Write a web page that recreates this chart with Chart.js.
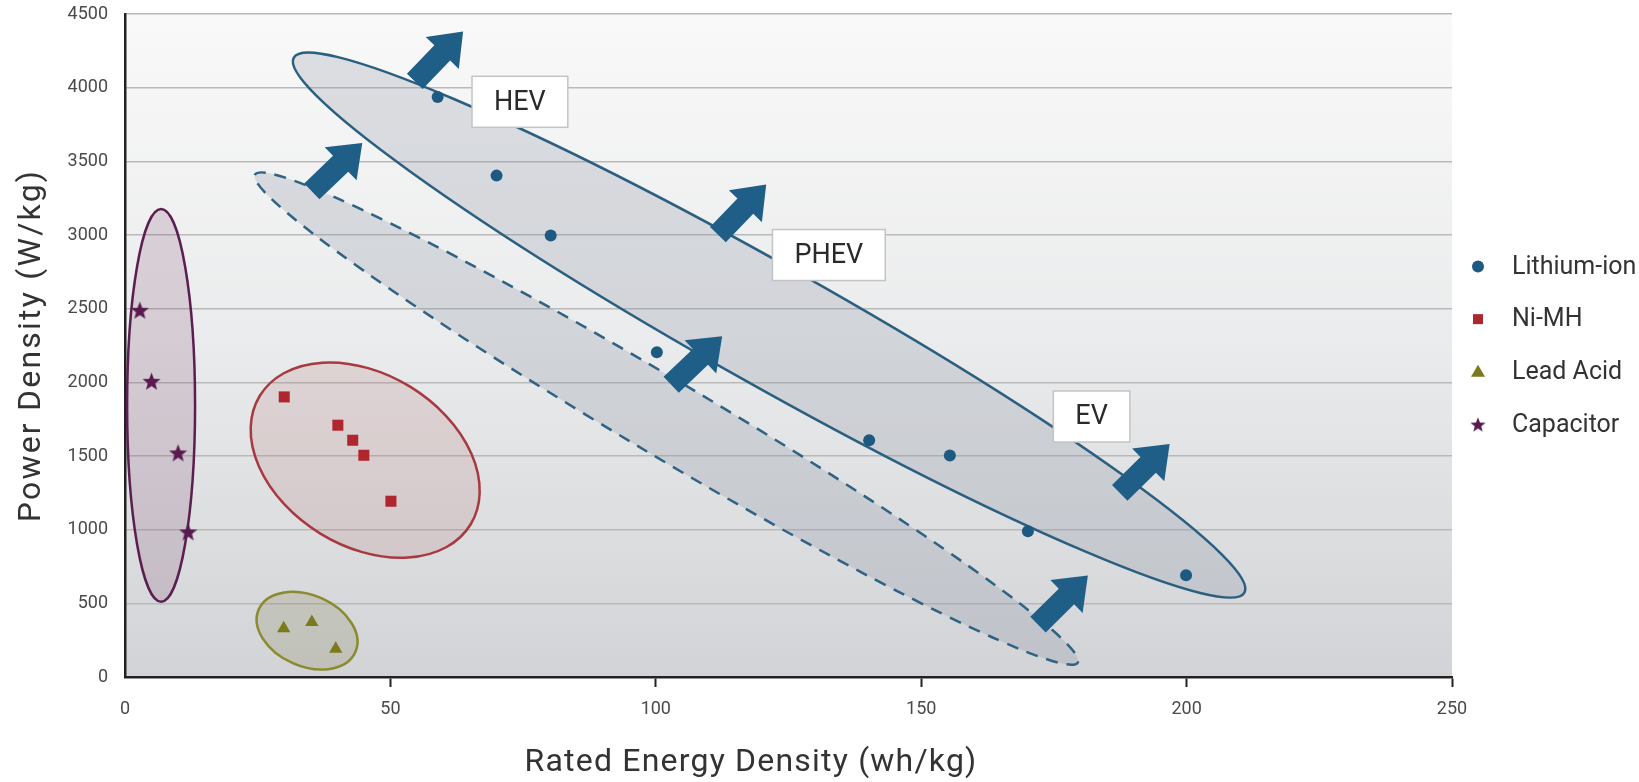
<!DOCTYPE html>
<html><head><meta charset="utf-8">
<script src="https://cdn.jsdelivr.net/npm/chart.js@4.4.1/dist/chart.umd.min.js"></script>
<style>html,body{margin:0;padding:0;background:#fff;}canvas{display:block}</style>
</head><body>
<canvas id="c" width="1639" height="782"></canvas>
<script>
// ---- data ----
const seriesNames = ['Lithium-ion', 'Ni-MH', 'Lead Acid', 'Capacitor'];
const lithiumEnergy = [58.9, 70.0, 80.2, 100.2, 140.2, 155.4, 170.1, 199.9];
const lithiumPower  = [3937, 3403, 2996, 2204, 1607, 1503, 989, 691];
const nimhEnergy = [30.0, 40.1, 42.9, 45.0, 50.1];
const nimhPower  = [1901, 1709, 1607, 1505, 1193];
const leadEnergy = [29.9, 35.2, 39.7];
const leadPower  = [330, 372, 191];
const capEnergy = [2.8, 5.0, 10.0, 11.9];
const capPower  = [2489, 2007, 1521, 985];
const xTickValues = [0, 50, 100, 150, 200, 250];
const yTickValues = [0, 500, 1000, 1500, 2000, 2500, 3000, 3500, 4000, 4500];
const xTitle = 'Rated Energy Density (wh/kg)';
const yTitle = 'Power Density (W/kg)';
// grouping zones: major-axis end points (data units) and minor/major ratio
const zoneFrom  = [[6.8, 3177], [25.4, 1909], [25.2, 459], [31.8, 4204], [24.5, 3410]];
const zoneTo    = [[6.8, 511], [65.1, 1035], [43.4, 170], [210.9, 573], [179.5, 98]];
const zoneRatio = [0.173, 0.697, 0.672, 0.11, 0.08];
// development arrows (data units): tail -> tip
const arrowFrom = [[54.6, 4043], [35.2, 3296], [111.7, 3003], [102.9, 1984], [187.4, 1250], [172.0, 356]];
const arrowTo   = [[63.7, 4382], [44.7, 3625], [120.8, 3342], [112.5, 2313], [196.8, 1582], [181.4, 689]];
// vehicle tags
const tagTexts = ['HEV', 'PHEV', 'EV'];
const tagAt = [[74.4, 3904], [132.6, 2864], [182.1, 1768]];

// ---- styles ----
const FONT = 'Roboto, "DejaVu Sans", sans-serif';
const C_LI = '#1d5a82', C_NI = '#b0262f', C_LEAD = '#7b7a1d', C_CAP = '#5a1a4f';
const zoneStyles = [
  {fill: 'rgba(115,60,100,0.18)', stroke: '#5a1f50', dash: []},
  {fill: 'rgba(175,110,110,0.18)', stroke: '#a63a40', dash: []},
  {fill: 'rgba(125,120,70,0.20)', stroke: '#8a8a2e', dash: []},
  {fill: 'rgba(135,142,158,0.25)', stroke: '#2b5f80', dash: []},
  {fill: 'rgba(135,142,158,0.25)', stroke: '#2f6283', dash: [12, 9]}
];

function makeStar(size, color) {
  const cv = document.createElement('canvas');
  cv.width = size; cv.height = size;
  const g = cv.getContext('2d');
  const cx = size / 2, cy = size / 2 + size * 0.04, ro = size / 2, ri = ro * 0.42;
  g.beginPath();
  for (let i = 0; i < 10; i++) {
    const r = i % 2 ? ri : ro;
    const a = -Math.PI / 2 + i * Math.PI / 5;
    g.lineTo(cx + r * Math.cos(a), cy + r * Math.sin(a));
  }
  g.closePath(); g.fillStyle = color; g.fill();
  return cv;
}
const starPoint = makeStar(19, C_CAP);
const starLegend = makeStar(16, C_CAP);

const zip = (xs, ys) => xs.map((x, i) => ({x, y: ys[i]}));

const decor = {
  id: 'decor',
  beforeDraw(chart) {
    const {ctx, chartArea: a} = chart;
    const g = ctx.createLinearGradient(0, a.top, 0, a.bottom);
    g.addColorStop(0, '#f9f9f9');
    g.addColorStop(0.5, '#eaebec');
    g.addColorStop(1, '#d1d3d6');
    ctx.save(); ctx.fillStyle = g;
    ctx.fillRect(a.left, a.top, a.right - a.left, a.bottom - a.top);
    ctx.restore();
  },
  beforeDatasetsDraw(chart) {
    const {ctx, scales: {x, y}} = chart;
    ctx.save();
    // zones
    zoneFrom.forEach((p, i) => {
      const x1 = x.getPixelForValue(p[0]), y1 = y.getPixelForValue(p[1]);
      const x2 = x.getPixelForValue(zoneTo[i][0]), y2 = y.getPixelForValue(zoneTo[i][1]);
      const cx = (x1 + x2) / 2, cy = (y1 + y2) / 2;
      const ra = Math.hypot(x2 - x1, y2 - y1) / 2, rb = ra * zoneRatio[i];
      const ang = Math.atan2(y2 - y1, x2 - x1);
      const st = zoneStyles[i];
      ctx.beginPath(); ctx.ellipse(cx, cy, ra, rb, ang, 0, Math.PI * 2);
      ctx.fillStyle = st.fill; ctx.fill();
      ctx.setLineDash(st.dash); ctx.lineWidth = 2.5; ctx.strokeStyle = st.stroke; ctx.stroke();
    });
    ctx.setLineDash([]);
    // arrows
    arrowFrom.forEach((p, i) => {
      const x1 = x.getPixelForValue(p[0]), y1 = y.getPixelForValue(p[1]);
      const x2 = x.getPixelForValue(arrowTo[i][0]), y2 = y.getPixelForValue(arrowTo[i][1]);
      const len = Math.hypot(x2 - x1, y2 - y1);
      const ux = (x2 - x1) / len, uy = (y2 - y1) / len, nx = -uy, ny = ux;
      const sw = 11, hw = 23, hl = 30;
      const bx = x2 - ux * hl, by = y2 - uy * hl;
      ctx.beginPath();
      ctx.moveTo(x1 + nx * sw, y1 + ny * sw);
      ctx.lineTo(bx + nx * sw, by + ny * sw);
      ctx.lineTo(bx + nx * hw, by + ny * hw);
      ctx.lineTo(x2, y2);
      ctx.lineTo(bx - nx * hw, by - ny * hw);
      ctx.lineTo(bx - nx * sw, by - ny * sw);
      ctx.lineTo(x1 - nx * sw, y1 - ny * sw);
      ctx.closePath();
      ctx.fillStyle = '#1f5e86'; ctx.fill();
    });
    // tags
    ctx.font = '27px ' + FONT; ctx.textAlign = 'center'; ctx.textBaseline = 'middle';
    tagTexts.forEach((t, i) => {
      const cx = x.getPixelForValue(tagAt[i][0]), cy = y.getPixelForValue(tagAt[i][1]);
      const w = ctx.measureText(t).width + 44, h = 51;
      ctx.fillStyle = '#ffffff';
      ctx.fillRect(cx - w / 2, cy - h / 2, w, h);
      ctx.lineWidth = 1.5; ctx.strokeStyle = '#c4c4c4';
      ctx.strokeRect(cx - w / 2, cy - h / 2, w, h);
      ctx.fillStyle = '#2a2a2a';
      ctx.fillText(t, cx, cy + 1);
    });
    ctx.restore();
  },
  afterDraw(chart) {
    const {ctx, chartArea: a} = chart;
    ctx.save();
    ctx.fillStyle = '#333';
    ctx.textAlign = 'center'; ctx.textBaseline = 'middle';
    ctx.font = '32px ' + FONT;
    ctx.letterSpacing = '1.2px';
    ctx.fillText(xTitle, 751, 763);
    ctx.letterSpacing = '2.2px';
    ctx.translate(32, (a.top + a.bottom) / 2);
    ctx.rotate(-Math.PI / 2);
    ctx.fillText(yTitle, 0, 0);
    ctx.restore();
    // legend
    ctx.save();
    const gap = 52.7, y0 = (a.top + a.bottom) / 2 - 1.5 * gap, mx = 1478;
    ctx.font = '25px ' + FONT; ctx.textAlign = 'left'; ctx.textBaseline = 'middle';
    seriesNames.forEach((n, i) => {
      const yy = y0 + i * gap;
      ctx.beginPath();
      if (i === 0) { ctx.fillStyle = C_LI; ctx.arc(mx, yy, 6, 0, Math.PI * 2); ctx.fill(); }
      if (i === 1) { ctx.fillStyle = C_NI; ctx.fillRect(mx - 5, yy - 5, 10, 10); }
      if (i === 2) { ctx.fillStyle = C_LEAD; ctx.moveTo(mx, yy - 7); ctx.lineTo(mx + 7, yy + 5); ctx.lineTo(mx - 7, yy + 5); ctx.closePath(); ctx.fill(); }
      if (i === 3) { ctx.drawImage(starLegend, mx - 8, yy - 8); }
      ctx.fillStyle = '#333';
      ctx.fillText(n, 1512, yy + 1);
    });
    ctx.restore();
  }
};

Chart.defaults.font.family = FONT;
new Chart(document.getElementById('c'), {
  type: 'scatter',
  data: {
    datasets: [
      {label: seriesNames[0], data: zip(lithiumEnergy, lithiumPower), pointStyle: 'circle', pointRadius: 6, backgroundColor: C_LI, borderWidth: 0},
      {label: seriesNames[1], data: zip(nimhEnergy, nimhPower), pointStyle: 'rect', pointRadius: 7.8, backgroundColor: C_NI, borderWidth: 0},
      {label: seriesNames[2], data: zip(leadEnergy, leadPower), pointStyle: 'triangle', pointRadius: 7.7, backgroundColor: C_LEAD, borderWidth: 0},
      {label: seriesNames[3], data: zip(capEnergy, capPower), pointStyle: starPoint, pointRadius: 9, backgroundColor: C_CAP, borderWidth: 0}
    ]
  },
  options: {
    responsive: false, animation: false, devicePixelRatio: 1,
    layout: {padding: {left: 0, top: 14, right: 187, bottom: 0}},
    plugins: {legend: {display: false}, tooltip: {enabled: false}},
    scales: {
      x: {
        type: 'linear', min: 0, max: 250,
        afterBuildTicks: s => { s.ticks = xTickValues.map(v => ({value: v})); },
        afterFit: s => { s.height = 105; s.paddingLeft = 0; s.paddingRight = 0; },
        border: {display: true, color: '#222', width: 2.5},
        grid: {drawOnChartArea: false, drawTicks: true, tickLength: 10, tickWidth: 2,
               tickColor: c => c.index === 0 ? 'rgba(0,0,0,0)' : '#222'},
        ticks: {color: '#4a4a4a', font: {size: 18}, padding: 12, callback: v => String(v)}
      },
      y: {
        type: 'linear', min: 0, max: 4500,
        afterBuildTicks: s => { s.ticks = yTickValues.map(v => ({value: v})); },
        afterFit: s => { s.width = 125; s.paddingTop = 0; s.paddingBottom = 0; },
        border: {display: true, color: '#222', width: 2.5},
        grid: {color: '#b9b9b9', lineWidth: 1.5, drawTicks: false},
        ticks: {color: '#4a4a4a', font: {size: 18}, padding: 17, callback: v => String(v)}
      }
    }
  },
  plugins: [decor]
});
</script>
</body></html>
